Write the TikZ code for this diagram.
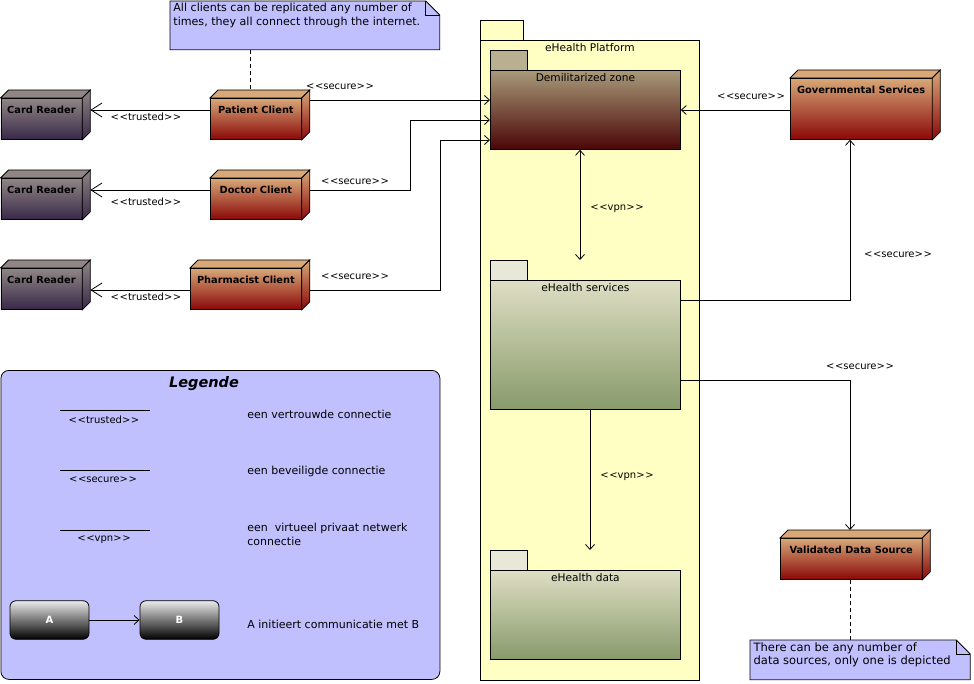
\documentclass[tikz,border=0pt]{standalone}
\usepackage{fontspec}
\setmainfont{DejaVu Sans}
\usetikzlibrary{arrows.meta,calc}
\definecolor{crTop}{HTML}{908686}
\definecolor{crBot}{HTML}{382848}
\definecolor{clTop}{HTML}{D8A878}
\definecolor{clBot}{HTML}{8A0808}
\definecolor{dmzTop}{HTML}{A89A7A}
\definecolor{dmzBot}{HTML}{4A0606}
\definecolor{dmzTab}{HTML}{B8B090}
\definecolor{svcTop}{HTML}{DEDEC4}
\definecolor{svcBot}{HTML}{889A6A}
\definecolor{svcTab}{HTML}{E8E8D8}
\definecolor{platY}{HTML}{FFFFC4}
\definecolor{noteB}{HTML}{C0C0FF}
\newcommand\cubefaces[3]{%
  \path[draw=black,fill=#2] (#1.north west) -- ++(8,-8) -- ($(#1.north east)+(8,-8)$) -- (#1.north east) -- cycle;
  \path[draw=black,top color=#2,bottom color=#3] (#1.north east) -- ++(8,-8) -- ($(#1.south east)+(8,-8)$) -- (#1.south east) -- cycle;
  \coordinate (#1-be) at ($(#1.east)+(8,-8)$);
  \coordinate (#1-bn) at ($(#1.north)+(8,-8)$);
}
\newcommand\stereo[1]{<\kern0.6pt<#1>\kern0.6pt>}
\newcommand\notefold[1]{%
  \fill[white] ($(#1.north east)+(-14,0)$) -- (#1.north east) -- ($(#1.north east)+(0,14)$) -- cycle;
  \draw (#1.south west) -- (#1.north west) -- ($(#1.north east)+(-14,0)$) -- ($(#1.north east)+(0,14)$) -- (#1.south east) -- cycle;
  \draw ($(#1.north east)+(-14,0)$) -- ($(#1.north east)+(-14,14)$) -- ($(#1.north east)+(0,14)$);
}
\begin{document}
\begin{tikzpicture}[x=1pt,y=-1pt,line width=0.8pt,
  nodebox/.style={draw=black,inner sep=0pt,anchor=north west,text height=15pt,font=\bfseries\fontsize{9.8}{12}\selectfont},
  reader/.style={nodebox,top color=crTop,bottom color=crBot},
  client/.style={nodebox,top color=clTop,bottom color=clBot},
  pkg/.style={draw=black,inner sep=0pt,anchor=north west,text height=11pt,font=\fontsize{10.6}{12}\selectfont},
  svcpkg/.style={pkg,top color=svcTop,bottom color=svcBot},
  lbl/.style={font=\fontsize{10}{12}\selectfont,inner sep=0pt},
  txt/.style={font=\fontsize{11}{14}\selectfont,inner sep=0pt,anchor=west,align=left},
  notebox/.style={anchor=north west,fill=noteB,inner xsep=3pt,inner ysep=2pt,font=\fontsize{11.1}{14}\selectfont},
  arr/.style={-{Straight Barb[length=5pt,width=9pt]}},
  bigarr/.style={-{Straight Barb[length=11pt,width=14pt]}},
  dbl/.style={{Straight Barb[length=5pt,width=9pt]}-{Straight Barb[length=5pt,width=9pt]}},
  dashline/.style={dash pattern=on 4pt off 3pt},
  abbox/.style={draw=black,rounded corners=6pt,minimum width=79pt,minimum height=38.5pt,top color=black!8,bottom color=black,text=white,font=\bfseries\fontsize{10}{12}\selectfont}]
\useasboundingbox (0,0) rectangle (974,684);

% platform package
\node[pkg,fill=platY,minimum width=219pt,minimum height=640pt,text depth=629pt] (plat) at (480,40) {eHealth Platform};
\draw[fill=platY] (plat.north west) rectangle ++(43,-20);

\node[pkg,top color=dmzTop,bottom color=dmzBot,minimum width=190pt,minimum height=79pt,text depth=68pt] (dmz) at (490,70) {Demilitarized zone};
\draw[fill=dmzTab] (dmz.north west) rectangle ++(37,-20);

\node[svcpkg,minimum width=190pt,minimum height=129pt,text depth=118pt] (svc) at (490,280) {eHealth services};
\draw[fill=svcTab] (svc.north west) rectangle ++(37,-20);
\coordinate (svctab) at ($(svc.north west)+(0,-20)$);

\node[svcpkg,minimum width=190pt,minimum height=89pt,text depth=78pt] (data) at (490,570) {eHealth data};
\draw[fill=svcTab] (data.north west) rectangle ++(37,-20);
\coordinate (datatab) at ($(data.north west)+(0,-20)$);

% 3D nodes
\node[reader,minimum width=81pt,minimum height=41pt,text depth=26pt] (cr1) at (0.5,98) {Card Reader};
\cubefaces{cr1}{crTop}{crBot}
\node[reader,minimum width=81pt,minimum height=41pt,text depth=26pt] (cr2) at (0.5,178) {Card Reader};
\cubefaces{cr2}{crTop}{crBot}
\node[reader,minimum width=81pt,minimum height=41pt,text depth=26pt] (cr3) at (0.5,268) {Card Reader};
\cubefaces{cr3}{crTop}{crBot}
\node[client,minimum width=91pt,minimum height=41pt,text depth=26pt] (pc) at (210,98) {Patient Client};
\cubefaces{pc}{clTop}{clBot}
\node[client,minimum width=91pt,minimum height=41pt,text depth=26pt] (dc) at (210,178) {Doctor Client};
\cubefaces{dc}{clTop}{clBot}
\node[client,minimum width=111pt,minimum height=41pt,text depth=26pt] (phc) at (190,268) {Pharmacist Client};
\cubefaces{phc}{clTop}{clBot}
\node[client,minimum width=141.5pt,minimum height=61pt,text depth=46pt] (gov) at (790,78) {Governmental Services};
\cubefaces{gov}{clTop}{clBot}
\node[client,minimum width=141.5pt,minimum height=41pt,text depth=26pt] (vds) at (780,538) {Validated Data Source};
\cubefaces{vds}{clTop}{clBot}

% notes
\node[notebox,minimum width=269pt,minimum height=48pt] (n1) at (170,1)
  {\parbox[t][44pt][t]{263pt}{All clients can be replicated any number of\\times, they all connect through the internet.}};
\notefold{n1}
\node[notebox,minimum width=219.5pt,minimum height=39pt] (n2) at (750,640)
  {\parbox[t][35pt][t]{213pt}{\fontsize{11.5}{13.5}\selectfont There can be any number of\\data sources, only one is depicted}};
\notefold{n2}

% connectors
\draw[bigarr] (pc.west |- 0,110) -- (cr1-be |- 0,110);
\draw[bigarr] (dc.west |- 0,190) -- (cr2-be |- 0,190);
\draw[bigarr] (phc.west |- 0,290) -- (cr3-be |- 0,290);
\draw[arr] (pc-be |- 0,100) -- (dmz.west |- 0,100);
\draw[arr] (dc-be |- 0,190) -- (410,190) -- (410,120) -- (dmz.west |- 0,120);
\draw[arr] (phc-be |- 0,290) -- (440,290) -- (440,140) -- (dmz.west |- 0,140);
\draw[arr] (gov.west |- 0,110) -- (dmz.east |- 0,110);
\draw[dbl] (580,0 |- dmz.south) -- (580,0 |- svctab);
\draw[arr] (svc.east |- 0,300) -- (850,300) -- (850,0 |- gov.south);
\draw[arr] (svc.east |- 0,380) -- (850,380) -- (850,0 |- vds-bn);
\draw[arr] (590,0 |- svc.south) -- (590,0 |- datatab);
\draw[dashline] (250,0 |- n1.south) -- (250,0 |- pc-bn);
\draw[dashline] (850,0 |- vds.south) -- (850,0 |- n2.north);

% connector labels
\node[lbl] (t1) at (146,117) {\stereo{trusted}};
\node[lbl] (t2) at (146,202) {\stereo{trusted}};
\node[lbl] (t3) at (146,297) {\stereo{trusted}};
\node[lbl] (s1) at (340,87) {\stereo{secure}};
\node[lbl] (s2) at (355,182) {\stereo{secure}};
\node[lbl] (s3) at (355,277) {\stereo{secure}};
\node[lbl] (s4) at (751,97) {\stereo{secure}};
\node[lbl] (s5) at (898,255) {\stereo{secure}};
\node[lbl] (s6) at (860,367) {\stereo{secure}};
\node[lbl] (v1) at (617,209) {\stereo{vpn}};
\node[lbl] (v2) at (627,477) {\stereo{vpn}};

% legend
\node[anchor=north west,draw=black,fill=noteB,rounded corners=8pt,minimum width=439pt,minimum height=309pt] (leg) at (0.5,370) {};
\node[font=\bfseries\itshape\fontsize{14.5}{16}\selectfont,inner sep=0pt] (lt) at (204,384) {Legende};
\draw (60,410) -- (150,410);
\node[lbl] (lg1) at (104,420) {\stereo{trusted}};
\node[txt] (lx1) at (247,414) {een vertrouwde connectie};
\draw (60,470) -- (150,470);
\node[lbl] (lg2) at (103,480) {\stereo{secure}};
\node[txt] (lx2) at (247,471) {een beveiligde connectie};
\draw (60,530) -- (150,530);
\node[lbl] (lg3) at (104,540) {\stereo{vpn}};
\node[txt] (lx3) at (247,534) {een\ \ virtueel privaat netwerk\\connectie};
\node[abbox] (la) at (49.5,620) {A};
\node[abbox] (lb) at (179.5,620) {B};
\draw[arr] (la) -- (lb);
\node[txt] (lx4) at (247,624) {A initieert communicatie met B};
\end{tikzpicture}
\end{document}
